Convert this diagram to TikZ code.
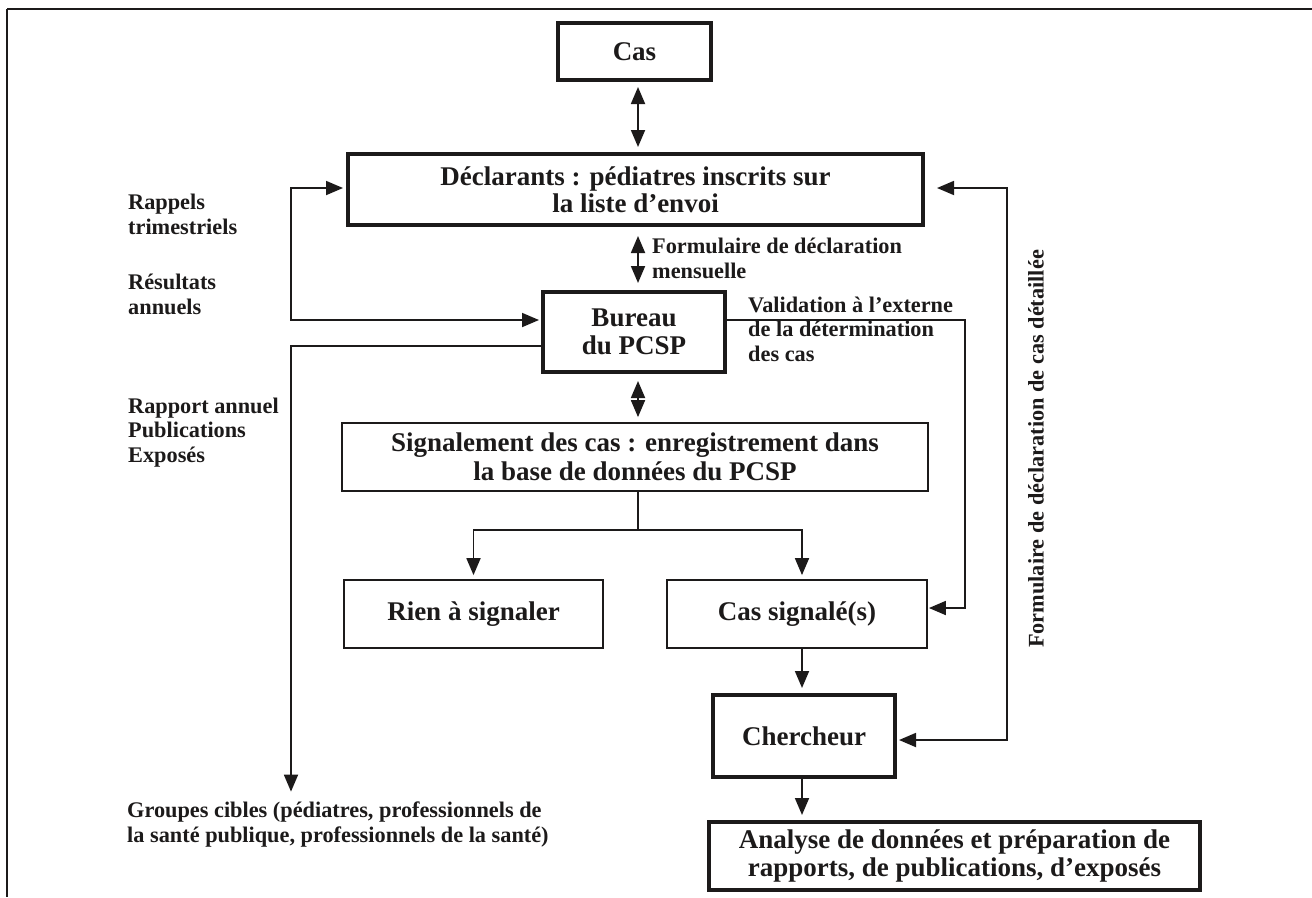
\documentclass[tikz,border=0pt]{standalone}
\usepackage{fontspec}
\setmainfont{Liberation Serif}
\usetikzlibrary{arrows.meta}
\definecolor{ink}{HTML}{1C1A1A}
\begin{document}
\begin{tikzpicture}[x=1pt,y=-1pt,
  thickbox/.style={draw=ink, line width=4pt, inner sep=0pt, align=center, text=ink,
    font=\bfseries\fontsize{27}{27.5}\selectfont},
  thinbox/.style={draw=ink, line width=1.8pt, inner sep=0pt, align=center, text=ink,
    font=\bfseries\fontsize{27}{29}\selectfont},
  lbl/.style={inner sep=0pt, align=left, anchor=base west, text=ink,
    font=\bfseries\fontsize{22.3}{24.5}\selectfont},
  wire/.style={draw=ink, line width=1.8pt},
  conn/.style={wire, -{Triangle[length=17pt,width=14pt]}},
  both/.style={wire, {Triangle[length=17pt,width=14pt]}-{Triangle[length=17pt,width=14pt]}}
]
\useasboundingbox (0,0) rectangle (1312,897);
% frame
\draw[ink, line width=2.5pt] (7,9) -- (1312,9);
\draw[ink, line width=2pt] (7,9) -- (7,897);

% boxes
\node[thickbox, minimum width=153pt, minimum height=57pt] (cas) at (634.5,51.5) {Cas};
\node[thickbox, minimum width=575pt, minimum height=71pt] (decl) at (635.5,189.5)
  {Déclarants : pédiatres inscrits sur\\la liste d’envoi};
\node[thickbox, minimum width=182pt, minimum height=80pt] (bureau) at (634,332)
  {Bureau\\du PCSP};
\node[thinbox, minimum width=586pt, minimum height=68pt] (signal) at (635,457)
  {Signalement des cas : enregistrement dans\\la base de données du PCSP};
\node[thinbox, minimum width=259pt, minimum height=68pt] (rien) at (473.5,614) {Rien à signaler};
\node[thinbox, minimum width=260pt, minimum height=68pt] (cassig) at (797,614) {Cas signalé(s)};
\node[thickbox, minimum width=182pt, minimum height=82pt] (cherch) at (804,736) {Chercheur};
\node[thickbox, minimum width=491pt, minimum height=68pt] (analyse) at (954.5,856)
  {Analyse de données et préparation de\\rapports, de publications, d’exposés};

% labels (anchor = baseline of the last line)
\node[lbl] (rappels) at (128,234) {Rappels\\trimestriels};
\node[lbl] (result) at (128,314) {Résultats\\annuels};
\node[lbl] (rapport) at (128,462) {Rapport annuel\\Publications\\Exposés};
\node[lbl] (grp) at (127,842) {Groupes cibles (pédiatres, professionnels de\\la santé publique, professionnels de la santé)};
\node[lbl] (formm) at (652,278) {Formulaire de déclaration\\mensuelle};
\node[lbl] (valid) at (748,361) {Validation à l’externe\\de la détermination\\des cas};
\node[lbl, anchor=center, rotate=90] (formd) at (1036,449) {Formulaire de déclaration de cas détaillée};

% helper coordinates
\coordinate (ax) at (638,0);
\coordinate (lx) at (291,0);
\coordinate (vx) at (965,0);
\coordinate (rx) at (1007,0);
\coordinate (cx) at (802,0);
\coordinate (by) at (0,530);

% central double arrows
\draw[both, shorten <=5pt, shorten >=5pt] (cas.south -| ax) -- (decl.north -| ax);
\draw[both, shorten <=9pt, shorten >=7pt] (decl.south -| ax) -- (bureau.north -| ax);
\draw[both, shorten <=7pt, shorten >=5pt] (bureau.south -| ax) -- (signal.north -| ax);

% left loop
\draw[both, shorten <=2pt, shorten >=3pt] ([yshift=12pt]bureau.west) -- ([yshift=12pt]bureau.west -| lx)
  -- ([yshift=1.5pt]decl.west -| lx) -- ([yshift=1.5pt]decl.west);
% to target groups
\draw[conn, shorten >=10pt] ([yshift=-14pt]bureau.west) -- ([yshift=-14pt]bureau.west -| lx) -- (grp.north -| lx);

% validation
\draw[conn, shorten >=1pt] ([yshift=12pt]bureau.east) -- ([yshift=12pt]bureau.east -| vx)
  -- ([yshift=6pt]cassig.east -| vx) -- ([yshift=6pt]cassig.east);

% right loop
\draw[both, shorten <=2pt, shorten >=12pt] ([yshift=-4pt]cherch.east) -- ([yshift=-4pt]cherch.east -| rx)
  -- ([yshift=1.5pt]decl.east -| rx) -- ([yshift=1.5pt]decl.east);

% branch
\draw[wire] (signal.south -| ax) -- (by -| ax);
\draw[conn, shorten >=4pt] (by -| ax) -| (rien.north);
\draw[conn, shorten >=4pt] (by -| ax) -| (cassig.north -| cx);
\draw[conn, shorten >=5pt] (cassig.south -| cx) -- (cherch.north -| cx);
\draw[conn, shorten >=5pt] (cherch.south -| cx) -- (analyse.north -| cx);
\end{tikzpicture}
\end{document}
